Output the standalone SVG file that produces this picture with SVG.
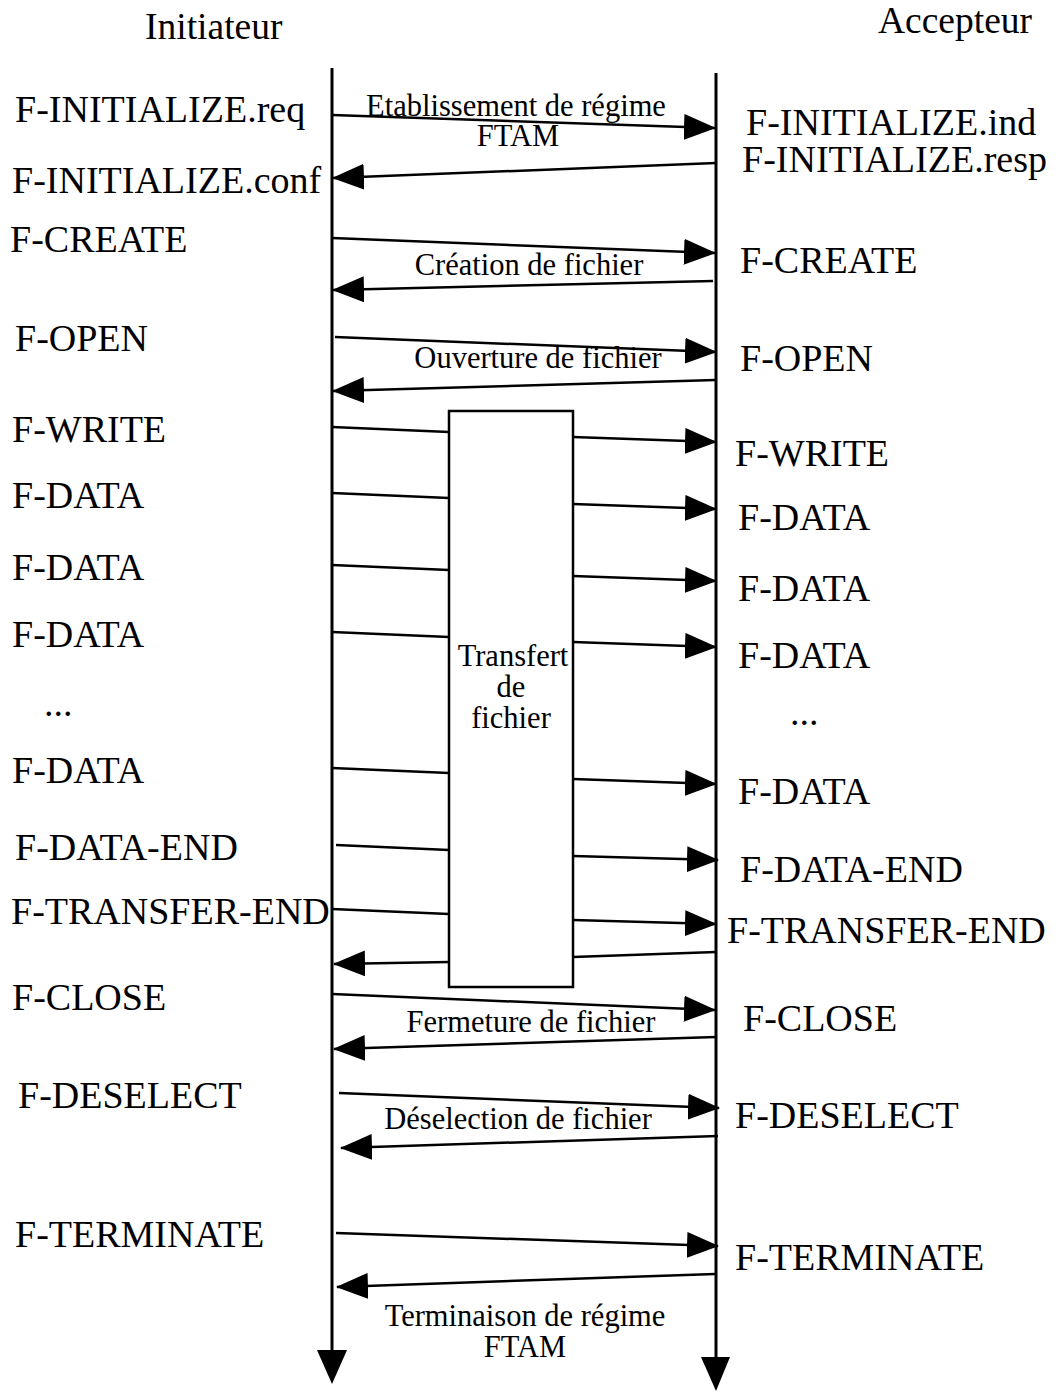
<svg xmlns="http://www.w3.org/2000/svg" width="1061" height="1395" viewBox="0 0 1061 1395">
  <style>
    text { font-family: "Liberation Serif", "Times New Roman", serif; fill: #000; }
    .prim { font-size: 38px; }
    .head { font-size: 37.5px; }
    .mid { font-size: 30.5px; text-anchor: middle; }
    .life { stroke: #000; stroke-width: 3; fill: none; }
    .msg { stroke: #000; stroke-width: 2.5; fill: none; }
    .arr { stroke: #000; stroke-width: 2.5; fill: none; marker-end: url(#head); }
    .box { stroke: #000; stroke-width: 2.5; fill: #fff; }
  </style>
  <defs>
    <marker id="head" markerUnits="userSpaceOnUse" markerWidth="32" markerHeight="26" viewBox="0 0 32 26" refX="31" refY="13" orient="auto">
      <path d="M0,0 L32,13 L0,26 Z" fill="#000"/>
    </marker>
  </defs>
  <rect width="1061" height="1395" fill="#fff"/>

  <!-- lifelines -->
  <g id="initiateur">
    <text class="head" x="145" y="39">Initiateur</text>
    <line class="life" x1="332" y1="68" x2="332" y2="1354"/>
    <path d="M317,1350 L347,1350 L332,1384 Z" fill="#000"/>
  </g>
  <g id="accepteur">
    <text class="head" x="878" y="33">Accepteur</text>
    <line class="life" x1="716" y1="73" x2="716" y2="1360"/>
    <path d="M701,1357 L730,1357 L716,1391 Z" fill="#000"/>
  </g>

  <!-- file transfer box -->
  <g id="transfert">
    <rect class="box" x="449" y="411" width="124" height="576"/>
    <text class="mid" x="513" y="666">Transfert</text>
    <text class="mid" x="511" y="697">de</text>
    <text class="mid" x="511" y="728">fichier</text>
  </g>

  <!-- initiator primitives -->
  <g id="init-labels">
    <text class="prim" x="15" y="122">F-INITIALIZE.req</text>
    <text class="prim" x="12" y="193">F-INITIALIZE.conf</text>
    <text class="prim" x="10" y="252">F-CREATE</text>
    <text class="prim" x="15" y="351">F-OPEN</text>
    <text class="prim" x="12" y="442">F-WRITE</text>
    <text class="prim" x="12" y="508">F-DATA</text>
    <text class="prim" x="12" y="580">F-DATA</text>
    <text class="prim" x="12" y="647">F-DATA</text>
    <text class="prim" x="44" y="716">...</text>
    <text class="prim" x="12" y="783">F-DATA</text>
    <text class="prim" x="15" y="860">F-DATA-END</text>
    <text class="prim" x="11" y="924">F-TRANSFER-END</text>
    <text class="prim" x="12" y="1010">F-CLOSE</text>
    <text class="prim" x="18" y="1108">F-DESELECT</text>
    <text class="prim" x="15" y="1247">F-TERMINATE</text>
  </g>

  <!-- acceptor primitives -->
  <g id="acc-labels">
    <text class="prim" x="746" y="135">F-INITIALIZE.ind</text>
    <text class="prim" x="742" y="172">F-INITIALIZE.resp</text>
    <text class="prim" x="740" y="273">F-CREATE</text>
    <text class="prim" x="740" y="371">F-OPEN</text>
    <text class="prim" x="735" y="466">F-WRITE</text>
    <text class="prim" x="738" y="530">F-DATA</text>
    <text class="prim" x="738" y="601">F-DATA</text>
    <text class="prim" x="738" y="668">F-DATA</text>
    <text class="prim" x="790" y="725">...</text>
    <text class="prim" x="738" y="804">F-DATA</text>
    <text class="prim" x="740" y="882">F-DATA-END</text>
    <text class="prim" x="727" y="943">F-TRANSFER-END</text>
    <text class="prim" x="743" y="1031">F-CLOSE</text>
    <text class="prim" x="735" y="1128">F-DESELECT</text>
    <text class="prim" x="735" y="1270">F-TERMINATE</text>
  </g>

  <!-- phase labels -->
  <g id="phase-labels">
    <text class="mid" x="516" y="116">Etablissement de régime</text>
    <text class="mid" x="518" y="146">FTAM</text>
    <text class="mid" x="529" y="275">Création de fichier</text>
    <text class="mid" x="538" y="368">Ouverture de fichier</text>
    <text class="mid" x="531" y="1032">Fermeture de fichier</text>
    <text class="mid" x="518" y="1129">Déselection de fichier</text>
    <text class="mid" x="525" y="1326">Terminaison de régime</text>
    <text class="mid" x="525" y="1357">FTAM</text>
  </g>

  <!-- messages -->
  <g id="connectors">
    <line class="arr" x1="332" y1="115" x2="715" y2="128"/>
    <line class="arr" x1="716" y1="163" x2="333" y2="178"/>
    <line class="arr" x1="332" y1="238" x2="715" y2="253"/>
    <line class="arr" x1="713" y1="281" x2="333" y2="290"/>
    <line class="arr" x1="335" y1="337" x2="716" y2="352"/>
    <line class="arr" x1="716" y1="380" x2="333" y2="391"/>

    <line class="msg" x1="332" y1="427" x2="449" y2="432"/>
    <line class="arr" x1="573" y1="437" x2="716" y2="442"/>
    <line class="msg" x1="332" y1="493" x2="449" y2="498"/>
    <line class="arr" x1="573" y1="504" x2="716" y2="509"/>
    <line class="msg" x1="332" y1="565" x2="449" y2="570"/>
    <line class="arr" x1="573" y1="576" x2="716" y2="581"/>
    <line class="msg" x1="332" y1="632" x2="449" y2="637"/>
    <line class="arr" x1="573" y1="642" x2="716" y2="647"/>
    <line class="msg" x1="332" y1="768" x2="449" y2="773"/>
    <line class="arr" x1="573" y1="779" x2="716" y2="784"/>
    <line class="msg" x1="336" y1="845" x2="449" y2="850"/>
    <line class="arr" x1="573" y1="856" x2="718" y2="860"/>
    <line class="msg" x1="332" y1="909" x2="449" y2="914"/>
    <line class="arr" x1="573" y1="920" x2="716" y2="924"/>
    <line class="msg" x1="716" y1="952" x2="573" y2="957"/>
    <line class="arr" x1="449" y1="962" x2="334" y2="964"/>

    <line class="arr" x1="332" y1="994" x2="715" y2="1010"/>
    <line class="arr" x1="716" y1="1037" x2="334" y2="1049"/>
    <line class="arr" x1="339" y1="1093" x2="719" y2="1108"/>
    <line class="arr" x1="718" y1="1136" x2="341" y2="1148"/>
    <line class="arr" x1="336" y1="1233" x2="718" y2="1246"/>
    <line class="arr" x1="715" y1="1274" x2="337" y2="1287"/>
  </g>
</svg>
